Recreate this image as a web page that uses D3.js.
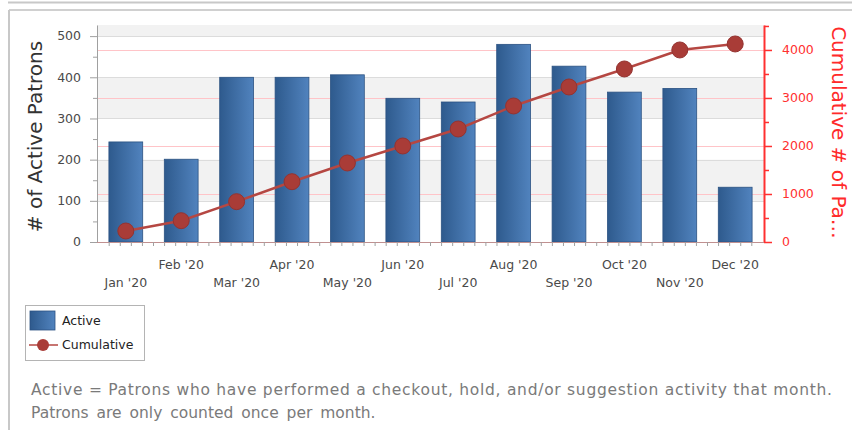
<!DOCTYPE html>
<html>
<head>
<meta charset="utf-8">
<script src="https://cdn.jsdelivr.net/npm/d3@7"></script>
<style>
  body { margin: 0; background: #fff; }
  svg { display: block; }
</style>
</head>
<body>
<div id="chart"></div>
<script>
// Data
const months = ["Jan '20", "Feb '20", "Mar '20", "Apr '20", "May '20", "Jun '20",
                "Jul '20", "Aug '20", "Sep '20", "Oct '20", "Nov '20", "Dec '20"];
const activeValues = [243, 201, 400, 400, 406, 349, 340, 480, 427, 364, 373, 133];
const cumulativeValues = [229, 444, 840, 1256, 1646, 2000, 2354, 2833, 3229, 3604, 4000, 4125];
const leftTicks = [0, 100, 200, 300, 400, 500];
const rightTicks = [0, 1000, 2000, 3000, 4000];
const noteLines = [
  "Active = Patrons who have performed a checkout, hold, and/or suggestion activity that month.",
  "Patrons are only counted once per month."
];

const config = {
  width: 852, height: 430,
  margin: {top: 25, right: 88, bottom: 188, left: 97}
};
const innerW = config.width - config.margin.left - config.margin.right;
const innerH = config.height - config.margin.top - config.margin.bottom;

const svg = d3.select('#chart').append('svg')
  .attr('width', config.width)
  .attr('height', config.height)
  .style('font-family', 'Tahoma, "DejaVu Sans", sans-serif');

// Gradient for bars
const defs = svg.append('defs');
const grad = defs.append('linearGradient').attr('id', 'barGrad')
  .attr('x1', '0%').attr('x2', '100%').attr('y1', '0%').attr('y2', '0%');
grad.append('stop').attr('offset', '0%').attr('stop-color', '#2e5a8d');
grad.append('stop').attr('offset', '100%').attr('stop-color', '#5183be');

// Outer frame lines
svg.append('line').attr('x1', 8).attr('x2', 852).attr('y1', 2.5).attr('y2', 2.5)
  .attr('stroke', '#c8c8c8').attr('stroke-width', 2);
svg.append('line').attr('x1', 9).attr('x2', 852).attr('y1', 10).attr('y2', 10)
  .attr('stroke', '#d0d0d0').attr('stroke-width', 2);
svg.append('line').attr('x1', 9).attr('x2', 9).attr('y1', 10).attr('y2', 430)
  .attr('stroke', '#c8c8c8').attr('stroke-width', 2);

const chart = svg.append('g')
  .attr('transform', `translate(${config.margin.left},${config.margin.top})`);

// Scales
const xScale = d3.scaleBand().domain(months).range([0, innerW]).paddingInner(0.39).paddingOuter(0.215);
const xPoint = m => xScale(m) + xScale.bandwidth() / 2;
const yLeft = d3.scaleLinear().domain([0, 527]).range([innerH, 0]);
const yRight = d3.scaleLinear().domain([0, 4520]).range([innerH, 0]);

// Background bands (alternating) for left axis
const bandEdges = [0, 100, 200, 300, 400, 500, 527];
for (let i = 0; i < bandEdges.length - 1; i++) {
  if (i % 2 === 1) {
    chart.append('rect')
      .attr('x', 0).attr('width', innerW)
      .attr('y', yLeft(bandEdges[i + 1]))
      .attr('height', yLeft(bandEdges[i]) - yLeft(bandEdges[i + 1]))
      .attr('fill', '#f2f2f2');
  }
}

// Left grid lines
chart.append('g')
  .selectAll('line').data(leftTicks.slice(1)).join('line')
  .attr('x1', 0).attr('x2', innerW)
  .attr('y1', d => Math.round(yLeft(d)) + 0.5).attr('y2', d => Math.round(yLeft(d)) + 0.5)
  .attr('stroke', '#dcdcdc').attr('stroke-width', 1);

// Right grid lines (pink)
chart.append('g')
  .selectAll('line').data(rightTicks.slice(1)).join('line')
  .attr('x1', 0).attr('x2', innerW)
  .attr('y1', d => Math.round(yRight(d)) + 0.5).attr('y2', d => Math.round(yRight(d)) + 0.5)
  .attr('stroke', '#ffc4c8').attr('stroke-width', 1.2);

// Bars
chart.selectAll('.bar')
  .data(activeValues)
  .join('rect')
  .attr('class', 'bar')
  .attr('x', (d, i) => xScale(months[i]))
  .attr('width', xScale.bandwidth())
  .attr('y', d => yLeft(d))
  .attr('height', d => innerH - yLeft(d))
  .attr('fill', 'url(#barGrad)')
  .attr('stroke', '#2b5282')
  .attr('stroke-width', 0.8);

// Left axis
const leftAxisG = chart.append('g')
  .call(d3.axisLeft(yLeft).tickValues(d3.range(0, 527, 50)).tickSize(0).tickFormat(''));
leftAxisG.select('.domain').attr('stroke', '#a0a0a0');
leftAxisG.selectAll('.tick line').attr('x2', d => d % 100 === 0 ? -7 : -4).attr('stroke', '#a0a0a0');
chart.append('g')
  .selectAll('text').data(leftTicks).join('text')
  .attr('x', -16).attr('y', d => yLeft(d)).attr('dy', '0.35em')
  .attr('text-anchor', 'end')
  .attr('font-size', 12.5).attr('fill', '#4a4a4a')
  .text(d => d);

// Right axis
const rightAxisG = chart.append('g')
  .attr('transform', `translate(${innerW},0)`)
  .call(d3.axisRight(yRight).tickValues(d3.range(0, 4520, 500)).tickSize(0).tickFormat(''));
rightAxisG.select('.domain').attr('stroke', '#ff3030').attr('stroke-width', 2);
rightAxisG.selectAll('.tick line').attr('x2', d => d % 1000 === 0 ? 8 : 5).attr('stroke', '#ff3030').attr('stroke-width', 1.5);
chart.append('g')
  .selectAll('text').data(rightTicks).join('text')
  .attr('x', innerW + 18).attr('y', d => yRight(d)).attr('dy', '0.35em')
  .attr('text-anchor', 'start')
  .attr('font-size', 12.5).attr('fill', '#ff3030')
  .text(d => d);

// X axis
const xAxisG = chart.append('g').attr('transform', `translate(0,${innerH})`);
xAxisG.append('line').attr('x1', 0).attr('x2', innerW).attr('y1', 0.5).attr('y2', 0.5)
  .attr('stroke', '#c09090').attr('stroke-width', 1.2);
const step = xScale.step();
const minorTicks = d3.range(0, 60).map(k => k / 5 - 0.5).filter(v => v > -0.5 && v < 11.6);
xAxisG.selectAll('.minor').data(minorTicks).join('line')
  .attr('class', 'minor')
  .attr('x1', d => xPoint(months[0]) + d * step).attr('x2', d => xPoint(months[0]) + d * step)
  .attr('y1', 0).attr('y2', d => Math.abs(d - Math.round(d)) < 1e-6 ? 8 : 4)
  .attr('stroke', '#a0a0a0');
xAxisG.selectAll('.xlabel').data(months).join('text')
  .attr('class', 'xlabel')
  .attr('x', d => xPoint(d))
  .attr('y', (d, i) => i % 2 === 0 ? 45 : 27)
  .attr('text-anchor', 'middle')
  .attr('font-size', 12.5).attr('fill', '#4a4a4a')
  .text(d => d);

// Cumulative line
const lineGen = d3.line()
  .x((d, i) => xPoint(months[i]))
  .y(d => yRight(d));
chart.append('path')
  .datum(cumulativeValues)
  .attr('fill', 'none')
  .attr('stroke', '#b54742')
  .attr('stroke-width', 2.5)
  .attr('d', lineGen);
chart.selectAll('.pt')
  .data(cumulativeValues)
  .join('circle')
  .attr('class', 'pt')
  .attr('cx', (d, i) => xPoint(months[i]))
  .attr('cy', d => yRight(d))
  .attr('r', 8)
  .attr('fill', '#a93c37')
  .attr('stroke', '#943330')
  .attr('stroke-width', 1);

// Axis titles
svg.append('text')
  .attr('transform', `translate(42,${config.margin.top + innerH / 2 + 3}) rotate(-90)`)
  .attr('text-anchor', 'middle')
  .attr('font-size', 20).attr('fill', '#333')
  .text('# of Active Patrons');
svg.append('text')
  .attr('transform', `translate(832,${config.margin.top + innerH / 2 - 1}) rotate(90)`)
  .attr('text-anchor', 'middle')
  .attr('font-size', 20).attr('fill', '#ff2a2a')
  .text('Cumulative # of Pa…');

// Legend
const legend = svg.append('g');
legend.append('rect').attr('x', 25.5).attr('y', 305.5).attr('width', 119).attr('height', 55)
  .attr('fill', '#fff').attr('stroke', '#b4b4b4');
legend.append('rect').attr('x', 30).attr('y', 311).attr('width', 25).attr('height', 19)
  .attr('fill', 'url(#barGrad)').attr('stroke', '#2b5282').attr('stroke-width', 0.8);
legend.append('text').attr('x', 62).attr('y', 321).attr('dy', '0.35em')
  .attr('font-size', 12.5).attr('fill', '#222').text('Active');
legend.append('line').attr('x1', 29).attr('x2', 58).attr('y1', 345).attr('y2', 345)
  .attr('stroke', '#b54742').attr('stroke-width', 1.5);
legend.append('circle').attr('cx', 43).attr('cy', 345).attr('r', 6)
  .attr('fill', '#a93c37');
legend.append('text').attr('x', 62).attr('y', 345).attr('dy', '0.35em')
  .attr('font-size', 12.5).attr('fill', '#222').text('Cumulative');

// Footnote
svg.append('text').attr('x', 31).attr('y', 390).attr('dy', '0.35em')
  .attr('font-size', 15.5).attr('fill', '#7a7a7a')
  .attr('textLength', 801).attr('lengthAdjust', 'spacing')
  .text(noteLines[0]);
svg.append('text').attr('x', 31).attr('y', 413).attr('dy', '0.35em')
  .attr('font-size', 15.5).attr('fill', '#7a7a7a')
  .attr('word-spacing', 3)
  .text(noteLines[1]);
</script>
</body>
</html>
